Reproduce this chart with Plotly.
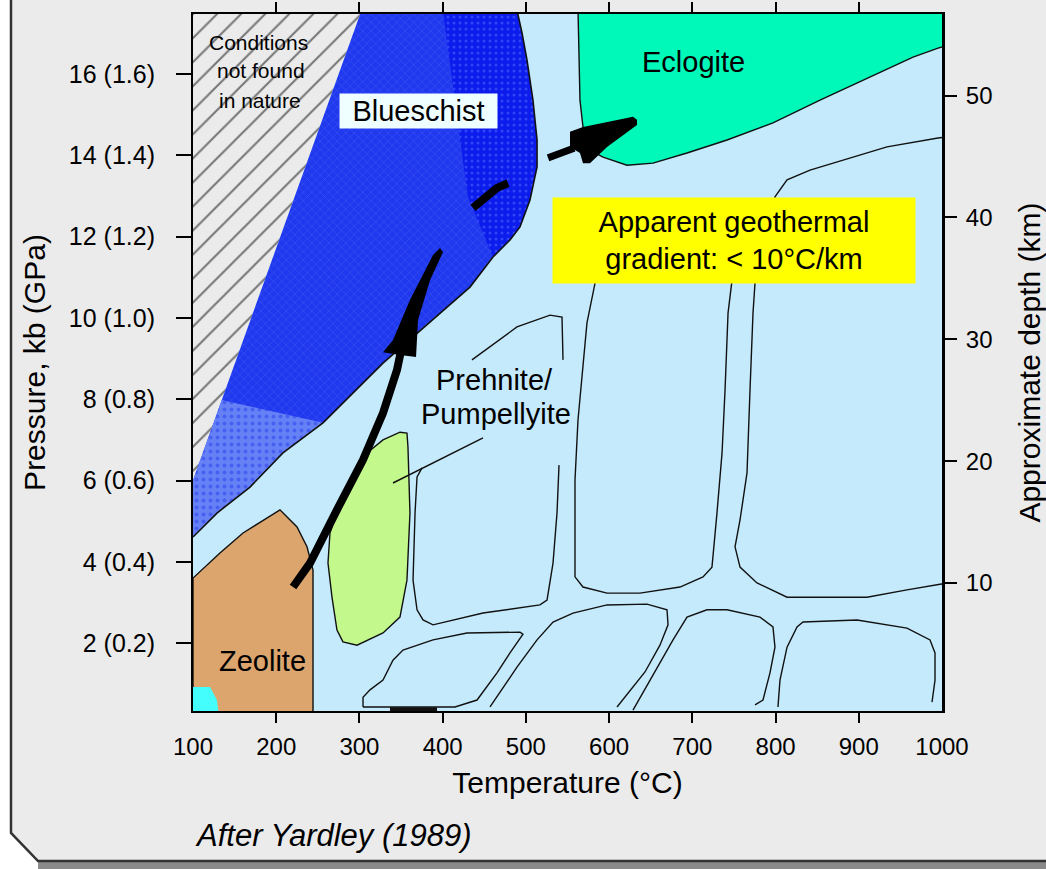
import plotly.graph_objects as go

FONT = "Liberation Sans, Arial, sans-serif"

# ---- axes -------------------------------------------------------------
T_RANGE = [100, 1000]
P_RANGE = [0.33, 17.48]
DEPTH_RANGE = [-0.5, 56.7]
T_LABELS = [100, 200, 300, 400, 500, 600, 700, 800, 900, 1000]
T_MARKS = [200, 300, 400, 500, 600, 700, 800, 900]
P_TICKS = [2, 4, 6, 8, 10, 12, 14, 16]
P_TICK_TEXT = ["2 (0.2)", "4 (0.4)", "6 (0.6)", "8 (0.8)", "10 (1.0)",
               "12 (1.2)", "14 (1.4)", "16 (1.6)"]
DEPTH_TICKS = [10, 20, 30, 40, 50]

# ---- facies fields (temperature °C, pressure kb) ------------------------
NOT_FOUND_T = [100, 303, 100]
NOT_FOUND_P = [17.6, 17.6, 6.01]

BLUESCHIST_T = [303, 489, 495.4, 501.3, 508.5, 513.4, 513.4, 504.9, 492.9, 480.9,
                460.5, 432.8, 372.8, 328.3, 256.2, 208.1, 168.5, 128.8, 100, 100]
BLUESCHIST_P = [17.6, 17.6, 17.01, 16.35, 15.36, 14.38, 13.72, 12.90, 12.24, 11.92,
                11.50, 10.76, 9.70, 8.89, 7.42, 6.68, 5.84, 5.20, 4.61, 6.01]
BLUESCHIST_DEEP_T = [400, 489, 495.4, 501.3, 508.5, 513.4, 513.4, 504.9, 492.9,
                     480.9, 460.5, 430]
BLUESCHIST_DEEP_P = [17.6, 17.6, 17.01, 16.35, 15.36, 14.38, 13.72, 12.90, 12.24,
                     11.92, 11.50, 13.0]
BLUESCHIST_PALE_T = [100, 100, 134.6, 256.2, 208.1, 168.5, 128.8]
BLUESCHIST_PALE_P = [4.61, 6.01, 7.98, 7.42, 6.68, 5.84, 5.20]

ECLOGITE_T = [562.6, 565.0, 568.6, 577.0, 592.7, 621.5, 652.7, 693.6, 741.7,
              796.9, 853.4, 913.5, 965.2, 995.2, 1010, 1010]
ECLOGITE_P = [17.6, 15.36, 14.70, 14.13, 13.96, 13.76, 13.81, 14.06, 14.38,
              14.80, 15.36, 15.93, 16.42, 16.64, 16.72, 17.6]

ZEOLITE_T = [100, 100, 132.4, 160.1, 204.5, 225.0, 237.0, 244.2, 244.2, 244.2]
ZEOLITE_P = [0.0, 3.60, 4.22, 4.71, 5.28, 4.86, 4.37, 3.80, 3.06, 0.0]

CYAN_T = [100, 120.4, 128.8, 132.4, 100]
CYAN_P = [0.92, 0.92, 0.60, 0.0, 0.0]

PREHNITE_FIELD_T = [264.6, 273.0, 288.7, 309.1, 328.3, 348.7, 357.1, 358.3, 360.7,
                    357.1, 348.7, 328.3, 297.1, 280.2, 273.0, 267.0, 262.2, 264.6]
PREHNITE_FIELD_P = [4.71, 5.20, 5.84, 6.68, 7.00, 7.19, 7.17, 6.83, 5.20,
                    3.55, 2.64, 2.25, 1.95, 2.03, 2.32, 3.13, 3.97, 4.71]

# ---- thin boundary curves ----------------------------------------------
LINE_A_T = [1010, 995.2, 933.9, 893.1, 841.4, 813.8, 799.3, 775.3, 772.9, 769.3,
            765.7, 757.3, 751.3, 757.3, 777.7, 813.8, 909.9, 957.9, 997.6, 1010]
LINE_A_P = [14.46, 14.43, 14.21, 13.96, 13.64, 13.40, 12.98, 10.86, 10.12, 8.23,
            6.19, 5.03, 4.37, 3.87, 3.48, 3.13, 3.13, 3.31, 3.45, 3.47]
LINE_B_T = [583.1, 583.1, 573.4, 567.4, 562.6, 559.0, 559.0, 568.6, 597.5, 637.1,
            685.2, 712.8, 723.6, 729.6, 735.7, 739.3, 742.9, 747.7, 747.7]
LINE_B_P = [11.67, 10.86, 9.88, 8.47, 7.49, 6.01, 3.63, 3.38, 3.23, 3.23,
            3.38, 3.63, 3.87, 5.20, 6.68, 8.23, 10.12, 10.93, 11.67]
PREHNITE_TOP_T = [435.2, 489.3, 529.0, 543.4, 544.6]
PREHNITE_TOP_P = [8.97, 9.78, 10.07, 10.02, 8.97]
PREHNITE_U_T = [375.2, 369.2, 366.8, 364.4, 369.2, 376.4, 388.4, 448.5, 516.9,
                525.4, 532.6, 537.4, 539.8]
PREHNITE_U_P = [6.31, 6.09, 5.20, 3.55, 2.82, 2.57, 2.45, 2.74, 2.94,
                3.06, 3.97, 5.20, 6.38]
LEADER_T = [340.3, 448.5]
LEADER_P = [5.94, 7.05]
LENS_T = [304.3, 304.3, 312.7, 328.3, 340.3, 352.3, 388.4, 429.2, 492.9, 496.5,
          480.9, 465.3, 441.3, 414.8, 304.3]
LENS_P = [0.43, 0.67, 0.85, 1.09, 1.58, 1.83, 2.08, 2.25, 2.27, 2.22,
          1.76, 1.27, 0.60, 0.43, 0.43]
BASE_BAR_T = [336.7, 393.2]
BASE_BAR_P = [0.37, 0.37]
LINE_E_T = [456.9, 489.3, 513.4, 532.6, 556.6, 597.5, 645.5, 669.6, 670.8, 661.1,
            643.1, 622.7, 609.5]
LINE_E_P = [0.43, 1.41, 2.08, 2.52, 2.74, 2.94, 2.96, 2.82, 2.45, 1.95,
            1.29, 0.77, 0.43]
LINE_F_T = [628.7, 649.1, 676.8, 693.6, 717.6, 741.7, 781.3, 796.9, 799.3, 793.3,
            784.9, 775.3]
LINE_F_P = [0.35, 1.09, 2.08, 2.64, 2.82, 2.82, 2.64, 2.40, 1.90, 1.27, 0.60, 0.48]
LINE_G_T = [802.9, 805.3, 813.8, 825.8, 833.0, 897.9, 957.9, 985.6, 991.6, 991.6, 988.0]
LINE_G_P = [0.43, 1.09, 1.90, 2.40, 2.52, 2.57, 2.37, 2.08, 1.76, 1.09, 0.55]

# ---- P-T path arrows ----------------------------------------------------
PATH_SHAFT_T = [220.2, 240.6, 273.0, 304.3, 328.3, 345.1, 350.0]
PATH_SHAFT_P = [3.38, 3.97, 5.28, 6.51, 7.66, 8.72, 9.20]
PATH_HEAD_T = [328.3, 340.3, 360.7, 378.8, 388.4, 396.8, 400.4, 384.8, 370.4, 368.0, 348.7]
PATH_HEAD_P = [9.16, 9.46, 10.44, 11.18, 11.55, 11.72, 11.62, 10.93, 9.95, 9.04, 9.09]
PATH_DASH_T = [436.4, 448.5, 465.3, 478.5]
PATH_DASH_P = [12.71, 12.90, 13.20, 13.32]
ECL_SHAFT_T = [526.6, 558.0]
ECL_SHAFT_P = [13.94, 14.18]
ECL_HEAD_T = [553.0, 553.0, 568.6, 628.7, 633.5, 633.5, 597.5, 577.0, 568.6, 565.0]
ECL_HEAD_P = [14.21, 14.58, 14.70, 14.95, 14.88, 14.75, 14.21, 13.81, 13.81, 14.06]

# ---- colours --------------------------------------------------------------
PLOT_BG = "#c5eafb"
PANEL = "#ebebeb"
EDGE = "#111111"

fig = go.Figure()


def field(T, P, color, line_w=0.0, pattern=None):
    kw = dict(x=T, y=P, mode="lines", fill="toself", fillcolor=color,
              line=dict(color=EDGE if line_w else color, width=line_w),
              hoverinfo="skip", showlegend=False)
    if pattern is not None:
        kw["fillpattern"] = pattern
    fig.add_trace(go.Scatter(**kw))


def curve(T, P, width=1.4, color=EDGE):
    fig.add_trace(go.Scatter(x=T, y=P, mode="lines",
                             line=dict(color=color, width=width),
                             hoverinfo="skip", showlegend=False))


# hatched "not found in nature"
field(NOT_FOUND_T, NOT_FOUND_P, PANEL,
      pattern=dict(shape="/", fgcolor="#000000", bgcolor=PANEL, size=17, solidity=0.12))
# blueschist (three tones of the dithered blue)
field(BLUESCHIST_T, BLUESCHIST_P, "#2038ee",
      pattern=dict(shape="x", fgcolor="#6580ff", bgcolor="#2038ee", size=6, solidity=0.15))
field(BLUESCHIST_DEEP_T, BLUESCHIST_DEEP_P, "#0c1cec",
      pattern=dict(shape=".", fgcolor="#5470ff", bgcolor="#0c1cec", size=6, solidity=0.2))
field(BLUESCHIST_PALE_T, BLUESCHIST_PALE_P, "#6680f6",
      pattern=dict(shape=".", fgcolor="#2a3fe8", bgcolor="#6680f6", size=7, solidity=0.25))
curve(BLUESCHIST_T[1:-1], BLUESCHIST_P[1:-1], width=1.6)
# eclogite
field(ECLOGITE_T, ECLOGITE_P, "#00f9b9")
curve(ECLOGITE_T[:-1], ECLOGITE_P[:-1], width=1.4)
# zeolite
field(ZEOLITE_T, ZEOLITE_P, "#dba56d", line_w=1.4)
field(CYAN_T, CYAN_P, "#44fdfd")
# prehnite-pumpellyite field
field(PREHNITE_FIELD_T, PREHNITE_FIELD_P, "#c3f98c", line_w=1.4)

for T, P in [(LINE_A_T, LINE_A_P), (LINE_B_T, LINE_B_P), (PREHNITE_TOP_T, PREHNITE_TOP_P),
             (PREHNITE_U_T, PREHNITE_U_P), (LEADER_T, LEADER_P), (LENS_T, LENS_P),
             (LINE_E_T, LINE_E_P), (LINE_F_T, LINE_F_P), (LINE_G_T, LINE_G_P)]:
    curve(T, P)
curve(BASE_BAR_T, BASE_BAR_P, width=4)

# arrows
curve(PATH_SHAFT_T, PATH_SHAFT_P, width=8, color="#000000")
field(PATH_HEAD_T, PATH_HEAD_P, "#000000")
curve(PATH_DASH_T, PATH_DASH_P, width=8, color="#000000")
curve(ECL_SHAFT_T, ECL_SHAFT_P, width=7, color="#000000")
field(ECL_HEAD_T, ECL_HEAD_P, "#000000")

# invisible traces anchoring the depth axis and the top tick axis
fig.add_trace(go.Scatter(x=[T_RANGE[0]] * len(DEPTH_TICKS), y=DEPTH_TICKS, yaxis="y2",
                         mode="markers", marker=dict(opacity=0), hoverinfo="skip",
                         showlegend=False))
fig.add_trace(go.Scatter(x=T_MARKS, y=[P_RANGE[0]] * len(T_MARKS), xaxis="x2",
                         mode="markers", marker=dict(opacity=0), hoverinfo="skip",
                         showlegend=False))

# ---- text -----------------------------------------------------------------
ann = []


def label(x, y, text, size=29, **kw):
    d = dict(x=x, y=y, xref="x", yref="y", text=text, showarrow=False,
             font=dict(family=FONT, size=size, color="#000000"))
    d.update(kw)
    ann.append(d)


label(179, 16.79, "Conditions", size=21)
label(182, 16.08, "not found", size=21)
label(181, 15.36, "in nature", size=21)
label(371, 15.09, "Blueschist", size=29, bgcolor="#effefe", width=157, height=34, borderpad=0)
label(701, 16.30, "Eclogite", size=29)
label(750, 11.91, "Apparent geothermal<br>gradient: &lt; 10°C/km", size=29,
      bgcolor="#ffff00", width=362, height=85, borderpad=0)
label(462, 8.48, "Prehnite/", size=29)
label(464, 7.63, "Pumpellyite", size=29)
label(183, 1.55, "Zeolite", size=29)
ann.append(dict(x=0.0, y=-0.178, xref="paper", yref="paper", xanchor="left",
                yanchor="middle", text="<i>After Yardley (1989)</i>", showarrow=False,
                font=dict(family=FONT, size=31, color="#000000")))

# ---- panel decoration (paper coords) ------------------------------------
shapes = [
    dict(type="path", xref="paper", yref="paper", layer="below",
         path="M -0.26 1.03 L -0.2430 1.03 L -0.2430 -0.1750 L -0.2069 -0.2152 "
              "L 1.15 -0.2152 L 1.15 -0.23 L -0.26 -0.23 Z",
         fillcolor="#ffffff", line=dict(width=0)),
    dict(type="rect", xref="paper", yref="paper", layer="below",
         x0=-0.2069, x1=1.15, y0=-0.2166, y1=-0.2280,
         fillcolor="#8a8a8a", line=dict(width=0)),
    dict(type="path", xref="paper", yref="paper", layer="above",
         path="M -0.2430 1.03 L -0.2430 -0.1750 L -0.2069 -0.2152 L 1.15 -0.2152",
         line=dict(color="#333333", width=2.5)),
]

fig.update_layout(
    width=1046, height=869,
    margin=dict(l=193, r=104, t=14, b=158, pad=0, autoexpand=False),
    paper_bgcolor=PANEL, plot_bgcolor=PLOT_BG,
    font=dict(family=FONT, color="#000000"),
    showlegend=False,
    annotations=ann,
    shapes=shapes,
    xaxis=dict(range=T_RANGE, tickvals=T_LABELS, ticktext=[str(v) for v in T_LABELS],
               ticks="", showgrid=False, zeroline=False, automargin=False,
               showline=True, linecolor="#000000", linewidth=2, mirror=True,
               tickfont=dict(size=24), ticklabelstandoff=13,
               minor=dict(tickvals=T_MARKS, ticks="outside", ticklen=10,
                          tickcolor="#000000", tickwidth=1.5),
               title=dict(text="Temperature (°C)", font=dict(size=30), standoff=13)),
    xaxis2=dict(range=T_RANGE, overlaying="x", side="top", tickvals=T_MARKS,
                ticks="outside", ticklen=11, tickwidth=1.5, tickcolor="#000000",
                automargin=False,
                showticklabels=False, showgrid=False, zeroline=False, showline=False),
    yaxis=dict(range=P_RANGE, tickvals=P_TICKS, ticktext=P_TICK_TEXT,
               ticks="outside", ticklen=15, tickwidth=1.5, tickcolor="#000000",
               showgrid=False, zeroline=False, automargin=False,
               showline=True, linecolor="#000000", linewidth=2,
               tickfont=dict(size=25), ticklabelstandoff=16,
               title=dict(text="Pressure, kb (GPa)", font=dict(size=30), standoff=14)),
    yaxis2=dict(range=DEPTH_RANGE, overlaying="y", side="right",
                tickvals=DEPTH_TICKS, ticks="outside", ticklen=12, tickwidth=1.5,
                tickcolor="#000000", showgrid=False, zeroline=False, automargin=False,
                showline=True, linecolor="#000000", linewidth=3,
                tickfont=dict(size=24), ticklabelstandoff=4,
                title=dict(text="Approximate depth (km)", font=dict(size=30), standoff=30)),
)

fig.write_html("out.html",
               config={"displayModeBar": False},
               post_script="document.body.style.margin='0px';"
                           "document.body.style.overflow='hidden';")
